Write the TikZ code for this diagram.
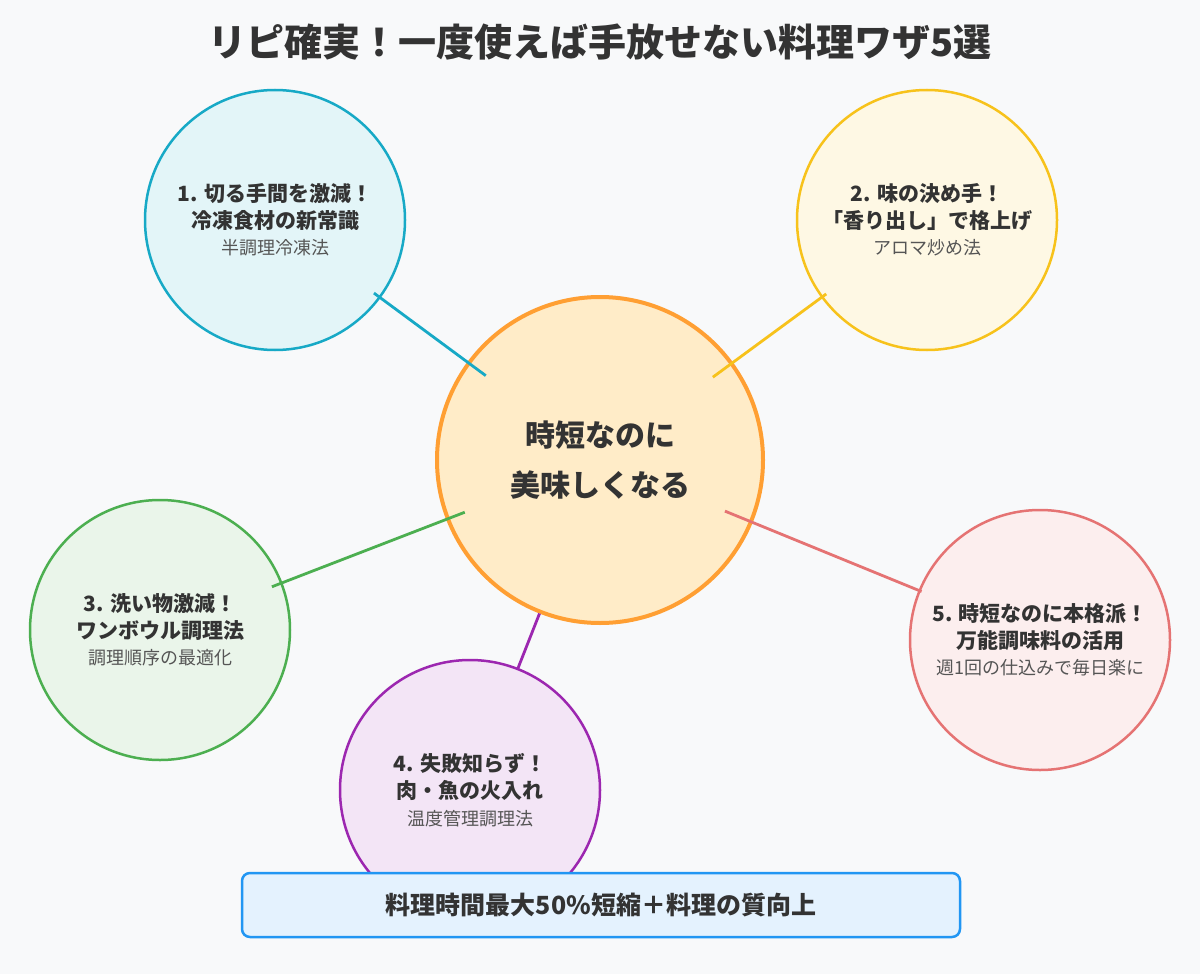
\documentclass[tikz,border=0pt]{standalone}
\usepackage{fontspec}
\setmainfont{Noto Sans CJK JP}
\usepackage{tikz}
\usetikzlibrary{calc}
\definecolor{bgc}{HTML}{F8F9FA}
\definecolor{txt}{HTML}{333333}
\definecolor{sub}{HTML}{555555}
\definecolor{cyanc}{HTML}{17A9C6}
\definecolor{yelc}{HTML}{F7C21B}
\definecolor{grnc}{HTML}{4CAF50}
\definecolor{purc}{HTML}{9C27B0}
\definecolor{redc}{HTML}{E57373}
\definecolor{orac}{HTML}{FF9F33}
\definecolor{midfill}{HTML}{FFECC8}
\definecolor{boxc}{HTML}{2196F3}
\tikzset{
  ideanode/.style={circle, draw=#1, fill=#1!12, line width=2.5pt, minimum size=260pt, inner sep=0pt, align=center, text=txt},
  link/.style={draw=#1, line width=2.8pt},
}
\newcommand{\headfont}{\fontsize{21}{26}\selectfont\bfseries}
\newcommand{\subfont}{\fontsize{18}{22}\selectfont\mdseries\color{sub}}

\begin{document}
\begin{tikzpicture}[x=1pt, y=-1pt]
    % canvas
    \fill[bgc] (0,0) rectangle (1200,974);
    \useasboundingbox (0,0) rectangle (1200,974);

    % title
    \node[text=txt, font=\fontsize{38}{44}\selectfont\bfseries] (title) at (600,42) {リピ確実！一度使えば手放せない料理ワザ5選};

    % circles
    \node[ideanode=orac, minimum size=326pt, line width=4pt, fill=midfill] (mid) at (600,460) {};
    \node[ideanode=cyanc] (c1) at (275,220) {\headfont 1. 切る手間を激減！\\[6pt]\headfont 冷凍食材の新常識\\[8pt]\subfont 半調理冷凍法};
    \node[ideanode=yelc] (c2) at (927,220) {\headfont 2. 味の決め手！\\[6pt]\headfont 「香り出し」で格上げ\\[8pt]\subfont アロマ炒め法};
    \node[ideanode=grnc] (c3) at (160,630) {\headfont 3. 洗い物激減！\\[6pt]\headfont ワンボウル調理法\\[8pt]\subfont 調理順序の最適化};
    \node[ideanode=purc] (c4) at (470,790) {\headfont 4. 失敗知らず！\\[6pt]\headfont 肉・魚の火入れ\\[8pt]\subfont 温度管理調理法};
    \node[ideanode=redc] (c5) at (1040,640) {\headfont 5. 時短なのに本格派！\\[6pt]\headfont 万能調味料の活用\\[8pt]\subfont 週1回の仕込みで毎日楽に};

    % connectors
    \draw[link=cyanc] ($(mid)!142pt!(c1)$) -- ($(c1)!123pt!(mid)$);
    \draw[link=yelc] ($(mid)!140pt!(c2)$) -- ($(c2)!125pt!(mid)$);
    \draw[link=grnc] ($(mid)!145pt!(c3)$) -- ($(c3)!120pt!(mid)$);
    \draw[link=purc] ($(mid)!165pt!(c4)$) -- ($(c4)!130pt!(mid)$);
    \draw[link=redc] ($(mid)!135pt!(c5)$) -- ($(c5)!128pt!(mid)$);

    % centre text
    \node[text=txt, align=center, font=\fontsize{30}{36}\selectfont\bfseries] (midtext) at (mid) {時短なのに\\[14pt]美味しくなる};

    % result box
    \node[draw=boxc, fill=boxc!12!white, line width=2.5pt, rounded corners=8pt,
          minimum width=718pt, minimum height=64pt, text=txt, font=\fontsize{25}{30}\selectfont\bfseries] (res) at (601,905) {料理時間最大50\%短縮＋料理の質向上};
\end{tikzpicture}
\end{document}
